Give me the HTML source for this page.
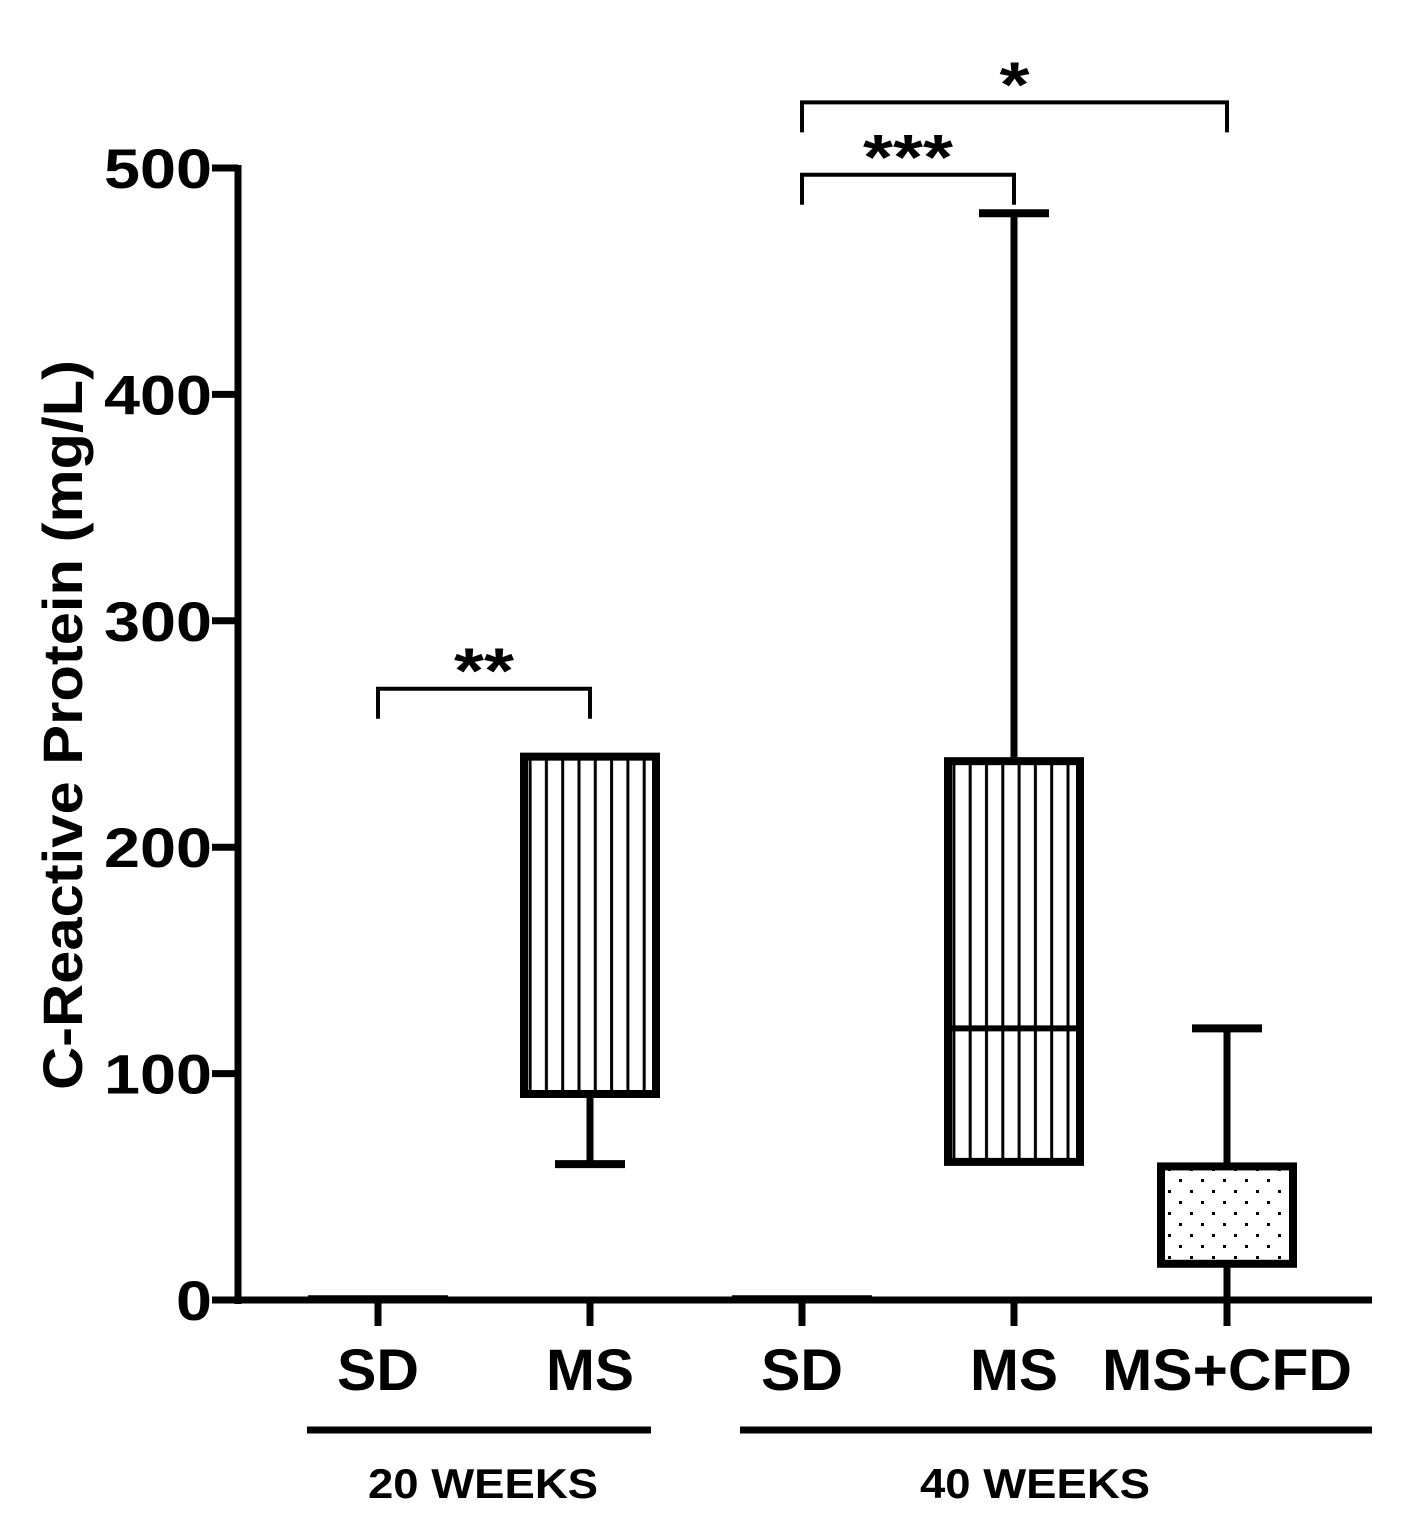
<!DOCTYPE html>
<html><head><meta charset="utf-8"><style>
html,body{margin:0;padding:0;background:#fff;}
svg{display:block;font-family:"Liberation Sans",Arial,sans-serif;font-weight:bold;}
</style></head><body>
<svg id="chart" width="1402" height="1520" viewBox="0 0 1402 1520" xmlns="http://www.w3.org/2000/svg">
<defs>
<pattern id="vhatch" patternUnits="userSpaceOnUse" width="16.3" height="10" x="0">
<rect x="7" y="0" width="3" height="10" fill="#000"/>
</pattern>
<pattern id="dots" patternUnits="userSpaceOnUse" width="22" height="22">
<rect x="2" y="2" width="3" height="3" fill="#000"/>
<rect x="13" y="13" width="3" height="3" fill="#000"/>
</pattern>
</defs>
<g id="plot"></g>
</svg>
<script>
const categories = ["SD","MS","SD","MS","MS+CFD"];
const groupNames = ["20 WEEKS","40 WEEKS"];
const whiskerLow = [0, 60, 0, 61, 0];
const boxLow = [0.5, 91, 0.5, 61, 16];
const medians = [1, 91, 1, 120, 16];
const boxHigh = [1.5, 240, 1.5, 238, 59];
const whiskerHigh = [1.5, 240, 1.5, 480, 120];
const fills = ["none","vhatch","none","vhatch","dots"];
const yTicks = [0,100,200,300,400,500];
const brackets = [[0,1,"**",270],[2,3,"***",497],[2,4,"*",529]];

const NS="http://www.w3.org/2000/svg";
const g=document.getElementById('plot');
const y0=1300, y500=168;
const yS=v=>y0-(v/500)*(y0-y500);
const xC=[378,590,802,1014,1227];
const xS=i=>xC[i];
const BW=132;
function mk(t,a,p){const e=document.createElementNS(NS,t);for(const k in a)e.setAttribute(k,a[k]);(p||g).appendChild(e);return e;}

let ax=mk('line',{x1:238,y1:165,x2:238,y2:1304,stroke:'#000','stroke-width':7});


yTicks.forEach(v=>{
  let t=mk('line',{x1:212,x2:238,y1:yS(v),y2:yS(v),stroke:'#000','stroke-width':7});
  
  
  const s=String(v);
  let l=mk('text',{x:212,y:yS(v)+20,'text-anchor':'end','font-size':56,textLength:s.length*36,lengthAdjust:'spacingAndGlyphs'});
  l.textContent=s;
  
  
});
let yt=mk('text',{x:0,y:0,'text-anchor':'middle','font-size':56,textLength:730,lengthAdjust:'spacingAndGlyphs',transform:'translate(82,725) rotate(-90)'});
yt.textContent='C-Reactive Protein (mg/L)';



const catW=[82,88,82,88,250];
categories.forEach((c,i)=>{
  const x=xS(i);
  if(whiskerHigh[i]>boxHigh[i]){
    let w=mk('line',{x1:x,x2:x,y1:yS(whiskerHigh[i]),y2:yS(boxHigh[i]),stroke:'#000','stroke-width':7});
    
    
    let cap=mk('line',{x1:x-35,x2:x+35,y1:yS(whiskerHigh[i]),y2:yS(whiskerHigh[i]),stroke:'#000','stroke-width':8});
    
    
  }
  if(whiskerLow[i]<boxLow[i]-2){
    let w=mk('line',{x1:x,x2:x,y1:yS(boxLow[i]),y2:yS(whiskerLow[i]),stroke:'#000','stroke-width':7});
    
    
    if(whiskerLow[i]>2){
      let cap=mk('line',{x1:x-35,x2:x+35,y1:yS(whiskerLow[i]),y2:yS(whiskerLow[i]),stroke:'#000','stroke-width':8});
      
      
    }
  }
  const top=yS(boxHigh[i]), bot=yS(boxLow[i]);
  if(fills[i]==='none'){
    let r=mk('line',{x1:x-70,x2:x+70,y1:(top+bot)/2,y2:(top+bot)/2,stroke:'#000','stroke-width':5});
    
    
  } else {
    let r=mk('rect',{x:x-BW/2,y:top,width:BW,height:bot-top,fill:'url(#'+fills[i]+')',stroke:'#000','stroke-width':8});
    
    
    if(medians[i]>boxLow[i]+1 && medians[i]<boxHigh[i]-1){
      let m=mk('line',{x1:x-BW/2,x2:x+BW/2,y1:yS(medians[i]),y2:yS(medians[i]),stroke:'#000','stroke-width':6});
      
      
    }
  }
  let tk=mk('line',{x1:x,x2:x,y1:1300,y2:1326,stroke:'#000','stroke-width':7});
  
  
  let lb=mk('text',{x:x,y:1390,'text-anchor':'middle','font-size':58,textLength:catW[i],lengthAdjust:'spacingAndGlyphs'});
  lb.textContent=c;
  
  
});
let xa=mk('line',{x1:212,y1:1300,x2:1372,y2:1300,stroke:'#000','stroke-width':7});



[[307,651],[740,1372]].forEach((r,k)=>{
  let l=mk('line',{x1:r[0],x2:r[1],y1:1430,y2:1430,stroke:'#000','stroke-width':7});
  
  
  let t=mk('text',{x:k?1035:483,y:1498,'text-anchor':'middle','font-size':42,textLength:230,lengthAdjust:'spacingAndGlyphs'});
  t.textContent=groupNames[k];
  
  
});

brackets.forEach(b=>{
  const xa1=xS(b[0]), xb=xS(b[1]), yy=yS(b[3]);
  let p=mk('path',{d:`M${xa1},${yy+30} V${yy} H${xb} V${yy+30}`,fill:'none',stroke:'#000','stroke-width':4});
  
  
  let t=mk('text',{x:(xa1+xb)/2,y:yy+4,'text-anchor':'middle','font-size':64,textLength:b[2].length*30,lengthAdjust:'spacingAndGlyphs'});
  t.textContent=b[2];
  
  
});
</script>
</body></html>
